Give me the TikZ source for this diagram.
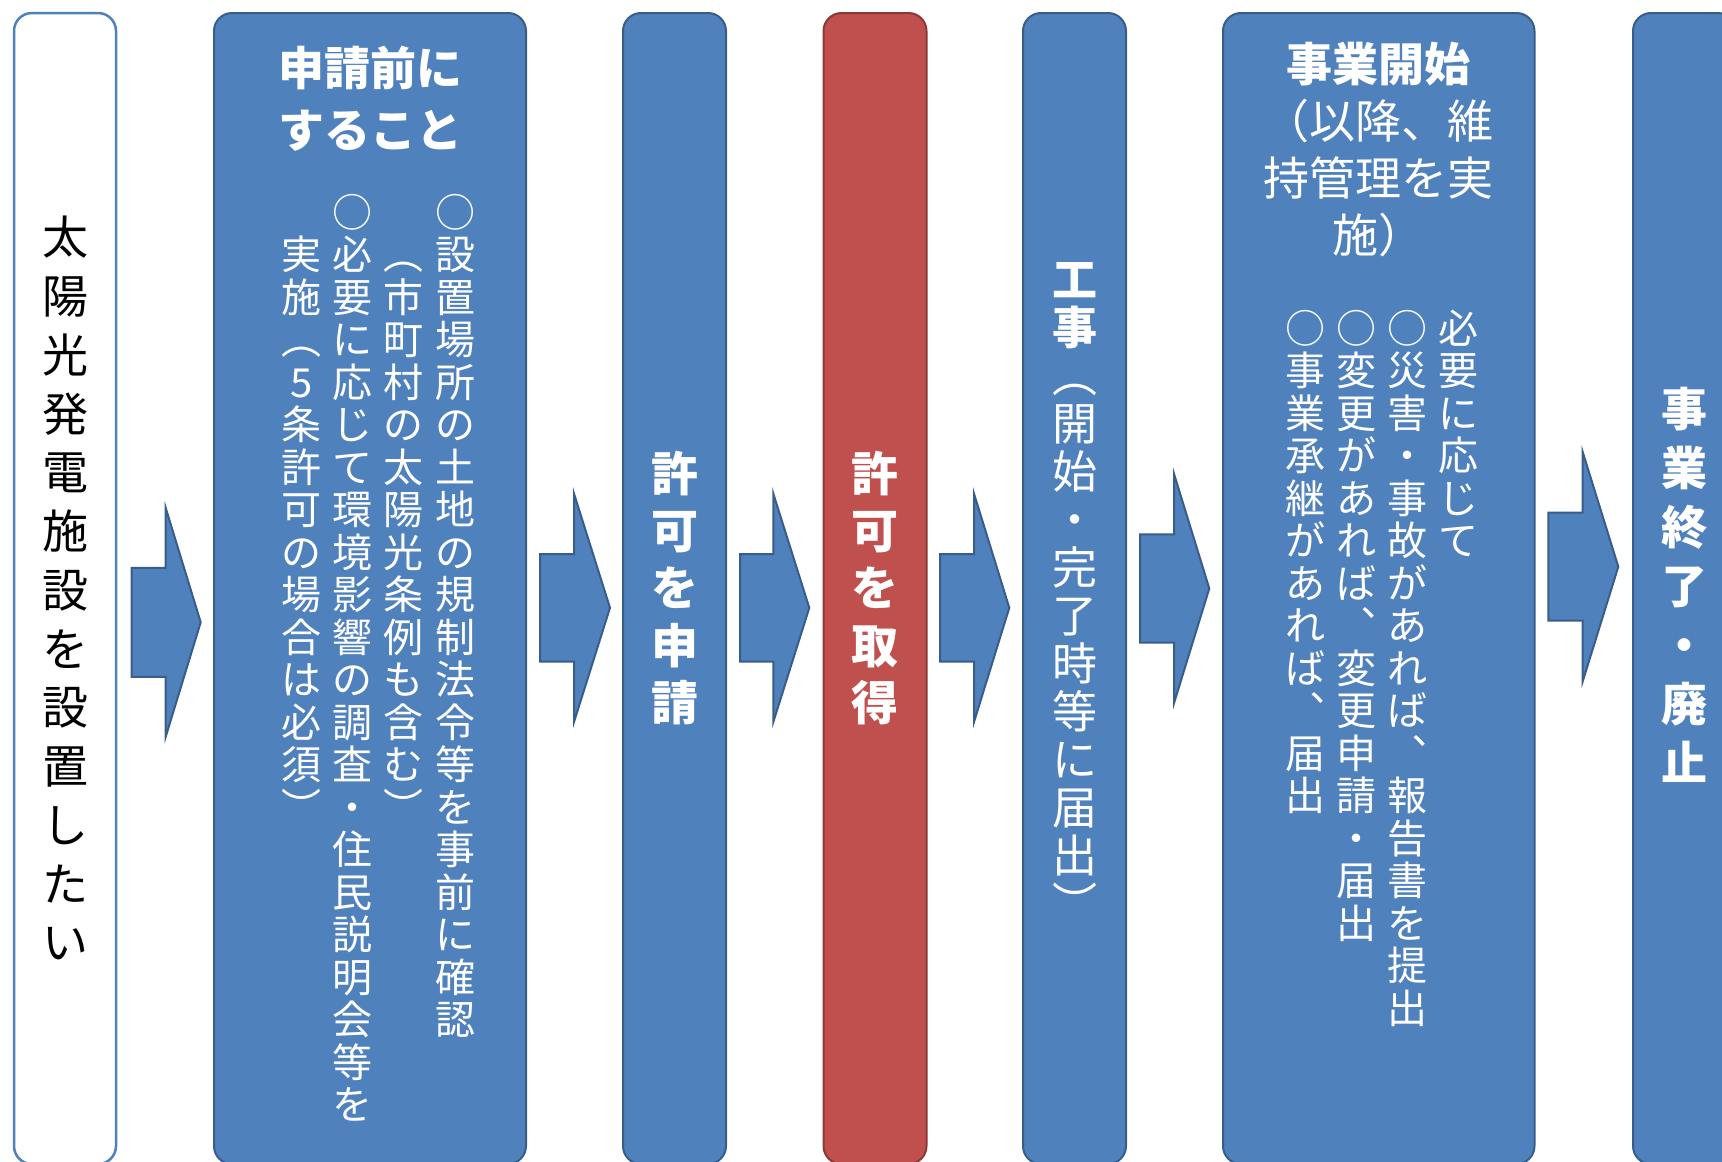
\documentclass[tikz,border=0pt]{standalone}
\usepackage{fontspec}
\setmainfont{Noto Sans CJK JP}
\definecolor{fillblue}{HTML}{4F81BD}
\definecolor{edgeblue}{HTML}{385D8A}
\definecolor{fillred}{HTML}{C0504D}
\definecolor{edgered}{HTML}{8C3836}
% vertical text helpers
\def\vcolend{VCEND}
\def\vcolaux#1{\ifx#1\vcolend\else\hbox to 1em{\vrule height .88em depth .12em width 0pt\hss#1\hss}\expandafter\vcolaux\fi}
\newcommand\vchars[1]{\vcolaux#1\vcolend}
\newcommand\vsetup[2]{\fontsize{#1}{#2}\selectfont\lineskip=0pt\lineskiplimit=-\maxdimen}
\newcommand\vcolumn[3]{\vbox{\vsetup{#1}{#2}\vchars{#3}}}
\newcommand\blockarrow[6]{\draw[blockarrow] (#1,#4-#5) -- (#2,#4-#5) -- (#2,#4-#6) -- (#3,#4) -- (#2,#4+#6) -- (#2,#4+#5) -- (#1,#4+#5) -- cycle;}
\begin{document}
\begin{tikzpicture}[x=1pt,y=-1pt,
  every node/.style={inner sep=0pt,outer sep=0pt},
  stage/.style={rounded corners=18pt,minimum height=1151pt,line width=2pt},
  whitebox/.style={stage,draw=fillblue,fill=white,line width=2.5pt},
  bluebox/.style={stage,draw=edgeblue,fill=fillblue},
  redbox/.style={stage,draw=edgered,fill=fillred},
  blockarrow/.style={draw=edgeblue,fill=fillblue,line width=2pt,line join=miter},
  wtext/.style={text=white},
]
\useasboundingbox (0,0) rectangle (1722,1162);
\clip (0,0) rectangle (1722,1162);
% stage boxes
\node[whitebox,minimum width=102pt] (boxA) at (65,588.5) {};
\node[bluebox,minimum width=312pt] (boxB) at (370,588.5) {};
\node[bluebox,minimum width=103pt] (boxC) at (674.5,588.5) {};
\node[redbox,minimum width=103pt] (boxD) at (875,588.5) {};
\node[bluebox,minimum width=103pt] (boxE) at (1074.5,588.5) {};
\node[bluebox,minimum width=311.5pt] (boxF) at (1378.75,588.5) {};
\node[bluebox,minimum width=103pt] (boxG) at (1684.5,588.5) {};
% block arrows
\blockarrow{131.7}{165.7}{200.7}{622.3}{54.5}{114.5}
\blockarrow{540}{574}{610}{607.8}{53.8}{114.2}
\blockarrow{740}{773.3}{809.3}{607.8}{53.8}{114.2}
\blockarrow{940}{974}{1009.3}{607.8}{53.8}{114.2}
\blockarrow{1140}{1174}{1209.3}{588.5}{54.2}{114.7}
\blockarrow{1548.3}{1582.7}{1618.3}{566.7}{54}{114.7}
% texts
\node[text=black] (tA) at (65,590) {\vcolumn{46}{58.75}{太陽光発電施設を設置したい}};
\node[wtext,align=center,font=\fontsize{46}{61.5}\selectfont\bfseries] (tB) at (370,99) {申請前に\\すること};
\node[wtext,anchor=north] (tB1) at (455,192) {\vcolumn{40}{42.5}{○設置場所の土地の規制法令等を事前に確認}};
\node[wtext,anchor=north] (tB2) at (403.3,234.5) {\vcolumn{40}{42.5}{︵市町村の太陽光条例も含む︶}};
\node[wtext,anchor=north] (tB3) at (352.5,192) {\vcolumn{40}{42.5}{○必要に応じて環境影響の調査・住民説明会等を}};
\node[wtext,anchor=north] (tB4) at (301.3,234.5) {\vcolumn{40}{42.5}{実施︵5条許可の場合は必須︶}};
\node[wtext] (tC) at (674.5,588) {\vbox{\vsetup{47}{57.2}\bfseries\vchars{許可を申請}}};
\node[wtext] (tD) at (875,588) {\vbox{\vsetup{47}{57.2}\bfseries\vchars{許可を取得}}};
\node[wtext] (tE) at (1074.5,591) {\vbox{\vsetup{45}{48}\bfseries\vchars{工事}\mdseries\vchars{︵開始・完了時等に届出︶}}};
\node[wtext,align=center,font=\fontsize{46}{57}\selectfont] (tF) at (1378.75,150) {\textbf{事業開始}\\（以降、維\\持管理を実\\施）};
\node[wtext,anchor=north] (tF1) at (1458.7,308) {\vcolumn{40}{42.5}{必要に応じて}};
\node[wtext,anchor=north] (tF2) at (1407.2,308) {\vcolumn{40}{42.5}{○災害・事故があれば︑報告書を提出}};
\node[wtext,anchor=north] (tF3) at (1356.7,308) {\vcolumn{40}{42.5}{○変更があれば︑変更申請・届出}};
\node[wtext,anchor=north] (tF4) at (1305,308) {\vcolumn{40}{42.5}{○事業承継があれば︑届出}};
\node[wtext] (tG) at (1684.5,586) {\vbox{\vsetup{46}{59}\bfseries\vchars{事業終了・廃止}}};
\end{tikzpicture}
\end{document}
